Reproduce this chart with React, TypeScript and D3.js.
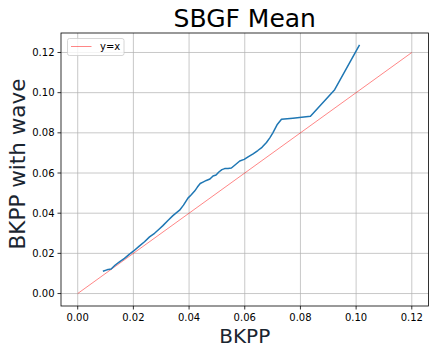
import React from "react";
import * as d3 from "d3";

const TITLE = "SBGF Mean";
const X_LABEL = "BKPP";
const Y_LABEL = "BKPP with wave";
const LEGEND_LABEL = "y=x";

const xTicks = [0.0, 0.02, 0.04, 0.06, 0.08, 0.1, 0.12];
const yTicks = [0.0, 0.02, 0.04, 0.06, 0.08, 0.1, 0.12];

const refX = [0, 0.12];
const refY = [0, 0.12];

const waveX = [
  0.0093, 0.0105, 0.0120, 0.0135, 0.0150, 0.0168, 0.0185, 0.0201, 0.0220, 0.0240,
  0.0258, 0.0276, 0.0292, 0.0306, 0.0325, 0.0342, 0.0355, 0.0366, 0.0380, 0.0396,
  0.0408, 0.0420, 0.0430, 0.0440, 0.0450, 0.0462, 0.0475, 0.0486, 0.0497, 0.0507,
  0.0518, 0.0528, 0.0540, 0.0552, 0.0565, 0.0582, 0.0598, 0.0612, 0.0630, 0.0647,
  0.0662, 0.0678, 0.0690, 0.0701, 0.0716, 0.0732, 0.0773, 0.0836, 0.0923, 0.1011,
];
const waveY = [
  0.0112, 0.0118, 0.0122, 0.0142, 0.0158, 0.0175, 0.0195, 0.0212, 0.0235, 0.0258,
  0.0282, 0.0300, 0.0320, 0.0338, 0.0365, 0.0388, 0.0403, 0.0415, 0.0440, 0.0475,
  0.0492, 0.0510, 0.0530, 0.0548, 0.0555, 0.0563, 0.0570, 0.0585, 0.0590, 0.0605,
  0.0617, 0.0622, 0.0623, 0.0625, 0.0640, 0.0660, 0.0668, 0.0680, 0.0695, 0.0712,
  0.0728, 0.0752, 0.0775, 0.0800, 0.0840, 0.0868, 0.0873, 0.0882, 0.1015, 0.1235,
];

const W = 436;
const H = 355;
const L = 61;
const R = 428.5;
const T = 33;
const B = 306;
const FONT = "'DejaVu Sans', sans-serif";

export default function App() {
  const x = d3.scaleLinear().domain([-0.006, 0.126]).range([L, R]);
  const y = d3.scaleLinear().domain([-0.0062, 0.1297]).range([B, T]);

  const line = d3
    .line<[number, number]>()
    .x((d) => x(d[0]))
    .y((d) => y(d[1]));

  const wave: [number, number][] = waveX.map((v, i) => [v, waveY[i]]);
  const ref: [number, number][] = refX.map((v, i) => [v, refY[i]]);

  return (
    <svg
      width={W}
      height={H}
      style={{ position: "absolute", left: 0, top: 0, background: "#fff" }}
      fontFamily={FONT}
    >
      <rect x={0} y={0} width={W} height={H} fill="#fff" />
      <defs>
        <clipPath id="plotclip">
          <rect x={L} y={T} width={R - L} height={B - T} />
        </clipPath>
      </defs>
      {xTicks.map((t) => (
        <line
          key={"gx" + t}
          x1={x(t)}
          x2={x(t)}
          y1={T}
          y2={B}
          stroke="#b0b0b0"
          strokeOpacity={0.7}
          strokeWidth={1}
        />
      ))}
      {yTicks.map((t) => (
        <line
          key={"gy" + t}
          x1={L}
          x2={R}
          y1={y(t)}
          y2={y(t)}
          stroke="#b0b0b0"
          strokeOpacity={0.7}
          strokeWidth={1}
        />
      ))}
      <g clipPath="url(#plotclip)">
        <path
          d={line(ref) || ""}
          fill="none"
          stroke="#ff0000"
          strokeOpacity={0.6}
          strokeWidth={0.8}
        />
        <path
          d={line(wave) || ""}
          fill="none"
          stroke="#1f77b4"
          strokeWidth={1.5}
          strokeLinejoin="round"
          strokeLinecap="square"
        />
      </g>
      <rect x={L} y={T} width={R - L} height={B - T} fill="none" stroke="#000" strokeWidth={0.8} />
      {xTicks.map((t) => (
        <g key={"xt" + t}>
          <line x1={x(t)} x2={x(t)} y1={B} y2={B + 3.5} stroke="#000" strokeWidth={0.8} />
          <text x={x(t)} y={B + 14.5} fontSize={10} textAnchor="middle" fill="#000">
            {d3.format(".2f")(t)}
          </text>
        </g>
      ))}
      {yTicks.map((t) => (
        <g key={"yt" + t}>
          <line x1={L - 3.5} x2={L} y1={y(t)} y2={y(t)} stroke="#000" strokeWidth={0.8} />
          <text
            x={L - 6.5}
            y={y(t)}
            dy="0.35em"
            fontSize={10}
            textAnchor="end"
            fill="#000"
          >
            {d3.format(".2f")(t)}
          </text>
        </g>
      ))}
      <text x={(L + R) / 2} y={27} fontSize={25} textAnchor="middle" fill="#000">
        {TITLE}
      </text>
      <text x={(L + R) / 2} y={343} fontSize={20} textAnchor="middle" fill="#1a2530">
        {X_LABEL}
      </text>
      <text
        transform={`translate(24.5, 164) rotate(-90)`}
        fontSize={21.5}
        textAnchor="middle"
        fill="#1a2530"
      >
        {Y_LABEL}
      </text>
      <rect
        x={67.5}
        y={38.5}
        width={56.5}
        height={17}
        rx={2}
        fill="#fff"
        fillOpacity={0.8}
        stroke="#cccccc"
        strokeWidth={0.8}
      />
      <line x1={71} x2={91.5} y1={46.5} y2={46.5} stroke="#ff0000" strokeOpacity={0.6} strokeWidth={0.8} />
      <text x={100} y={46.5} dy="0.35em" fontSize={10} fill="#000">
        {LEGEND_LABEL}
      </text>
    </svg>
  );
}
